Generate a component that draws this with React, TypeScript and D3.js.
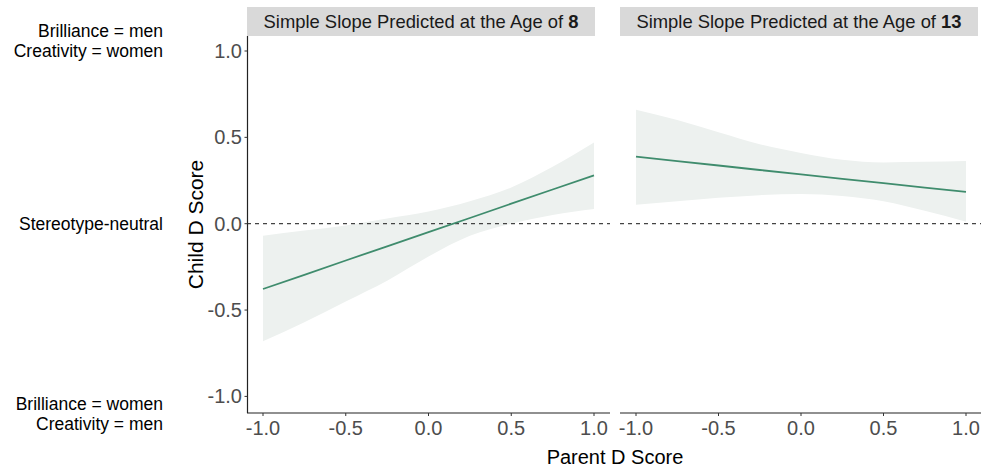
import React from "react";
import * as d3 from "d3";

const xGrid = [-1, -0.75, -0.5, -0.25, 0, 0.25, 0.5, 0.75, 1];
const age8Fit = [-0.378, -0.296, -0.213, -0.131, -0.049, 0.033, 0.116, 0.198, 0.28];
const age8Lower = [-0.68, -0.57, -0.45, -0.33, -0.19, -0.07, 0.0, 0.05, 0.085];
const age8Upper = [-0.07, -0.04, -0.01, 0.03, 0.07, 0.13, 0.21, 0.33, 0.47];
const age13Fit = [0.388, 0.362, 0.337, 0.311, 0.286, 0.26, 0.235, 0.209, 0.184];
const age13Lower = [0.11, 0.13, 0.15, 0.165, 0.172, 0.16, 0.13, 0.075, 0.012];
const age13Upper = [0.66, 0.6, 0.53, 0.46, 0.41, 0.37, 0.355, 0.358, 0.363];
const xTicks = [-1, -0.5, 0, 0.5, 1];
const yTicks = [-1, -0.5, 0, 0.5, 1];
const panelAges = ["8", "13"];
const stripPrefix = "Simple Slope Predicted at the Age of ";

const FONT = "'Liberation Sans', Arial, Helvetica, sans-serif";
const LINE = "#3f8c6d";
const RIBBON = "#edf1ef";

const fmt = (v: number) => {
  const s = Math.abs(v).toFixed(1);
  return v < 0 ? "-" + s : s;
};

export default function App() {
  const W = 981, H = 469;
  const top = 36, bottom = 413;
  const y = d3.scaleLinear().domain([-1, 1]).range([396.4, 51]);
  const panels = [
    { x: d3.scaleLinear().domain([-1, 1]).range([263, 594]), x0: 247, x1: 610, s0: 247, s1: 595, fit: age8Fit, lo: age8Lower, hi: age8Upper, age: panelAges[0] },
    { x: d3.scaleLinear().domain([-1, 1]).range([636, 966]), x0: 620, x1: 981, s0: 620, s1: 978, fit: age13Fit, lo: age13Lower, hi: age13Upper, age: panelAges[1] },
  ];

  return (
    <svg width={W} height={H} style={{ position: "absolute", left: 0, top: 0, background: "#fff" }} fontFamily={FONT}>
      {/* left annotations */}
      <g fontSize={17.5} fill="#000" textAnchor="end">
        <text x={163} y={y(1) - 14}>Brilliance = men</text>
        <text x={163} y={y(1) + 6}>Creativity = women</text>
        <text x={163} y={y(0) + 6}>Stereotype-neutral</text>
        <text x={163} y={y(-1) + 14}>Brilliance = women</text>
        <text x={163} y={y(-1) + 34}>Creativity = men</text>
      </g>
      {/* y axis title */}
      <text transform={`translate(203,${(top + bottom) / 2}) rotate(-90)`} textAnchor="middle" fontSize={21} fill="#000">Child D Score</text>
      {/* x axis title */}
      <text x={615} y={464} textAnchor="middle" fontSize={20} fill="#000">Parent D Score</text>

      {panels.map((p, i) => {
        const area = d3.area<number>()
          .x((_, k) => p.x(xGrid[k]))
          .y0((_, k) => y(p.lo[k]))
          .y1((_, k) => y(p.hi[k]))
          .curve(d3.curveMonotoneX);
        const line = d3.line<number>()
          .x((_, k) => p.x(xGrid[k]))
          .y((d) => y(d));
        return (
          <g key={i}>
            <rect x={p.s0} y={7} width={p.s1 - p.s0} height={29} fill="#d9d9d9" />
            <text x={(p.s0 + p.s1) / 2} y={28} textAnchor="middle" fontSize={18.4} fill="#1a1a1a">
              {stripPrefix}<tspan fontWeight="bold">{p.age}</tspan>
            </text>
            <path d={area(xGrid) || ""} fill={RIBBON} />
            <line x1={p.x0} x2={p.x1} y1={y(0)} y2={y(0)} stroke="#444" strokeWidth={1.2} strokeDasharray="4,4" />
            <path d={line(p.fit) || ""} fill="none" stroke={LINE} strokeWidth={1.8} />
            <line x1={p.x0} x2={p.x1} y1={bottom} y2={bottom} stroke="#222" strokeWidth={1.2} />
            {xTicks.map((t) => (
              <g key={t}>
                <line x1={p.x(t)} x2={p.x(t)} y1={bottom} y2={bottom + 3} stroke="#333" />
                <text x={p.x(t)} y={bottom + 22} textAnchor="middle" fontSize={20} fill="#4d4d4d">{fmt(t)}</text>
              </g>
            ))}
          </g>
        );
      })}
      {/* y axis */}
      <line x1={247.5} x2={247.5} y1={top} y2={bottom} stroke="#222" strokeWidth={1.2} />
      {yTicks.map((t) => (
        <g key={t}>
          <line x1={244.5} x2={247.5} y1={y(t)} y2={y(t)} stroke="#333" />
          <text x={242} y={y(t) + 7} textAnchor="end" fontSize={20} fill="#4d4d4d">{fmt(t)}</text>
        </g>
      ))}
    </svg>
  );
}
